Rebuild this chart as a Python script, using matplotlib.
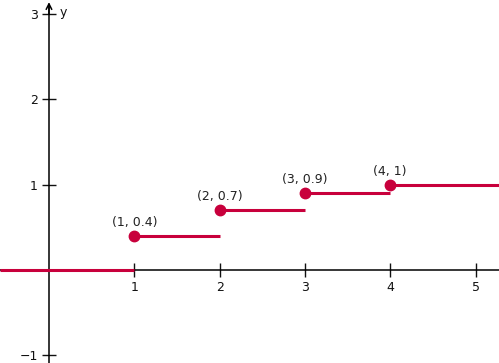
import numpy as np
import matplotlib.pyplot as plt

# step function values
jumps = [1, 2, 3, 4]
levels = [0.4, 0.7, 0.9, 1.0]
point_labels = ['(1, 0.4)', '(2, 0.7)', '(3, 0.9)', '(4, 1)']
xticks = [1, 2, 3, 4, 5]
yticks = [-1, 1, 2, 3]

red = '#c8003c'
xmin, xmax = -0.574, 5.275
ymin, ymax = -1.09, 3.165

fig = plt.figure(figsize=(4.99, 3.63), dpi=100)
ax = fig.add_axes([0, 0, 1, 1])
ax.set_xlim(xmin, xmax)
ax.set_ylim(ymin, ymax)

for s in ['top', 'right']:
    ax.spines[s].set_visible(False)
ax.spines['left'].set_position(('data', 0))
ax.spines['bottom'].set_position(('data', 0))
ax.spines['left'].set_bounds(ymin, 3.1)
ax.spines['left'].set_linewidth(1.1)
ax.spines['bottom'].set_linewidth(1.1)

ax.set_xticks(xticks)
ax.set_yticks(yticks)
ax.set_xticklabels([str(t) for t in xticks])
ax.set_yticklabels(['\u22121' if t < 0 else str(t) for t in yticks])
ax.tick_params(direction='inout', length=10, width=1, labelsize=9, colors='#111111')
ax.tick_params(axis='y', pad=3)
ax.tick_params(axis='x', pad=3)

# arrow on y axis
ax.annotate('', xy=(0, 3.14), xytext=(0, 3.0),
            arrowprops=dict(arrowstyle='->', lw=1.1, color='black', shrinkA=0, shrinkB=0))
ax.text(0.12, 3.02, 'y', fontsize=9, va='center', ha='left', color='#111111')

# segments
xs = [xmin] + jumps
xe = jumps + [xmax]
ys = [0] + levels
for a, b, y in zip(xs, xe, ys):
    ax.plot([a, b], [y, y], color=red, lw=2.2, solid_capstyle='butt', zorder=3)

ax.plot(jumps, levels, 'o', color=red, ms=7.5, zorder=4)
for x, y, t in zip(jumps, levels, point_labels):
    ax.annotate(t, (x, y), xytext=(0, 5), textcoords='offset points',
                ha='center', va='bottom', fontsize=9, color='#222222')

fig.savefig('out.png', dpi=100)
